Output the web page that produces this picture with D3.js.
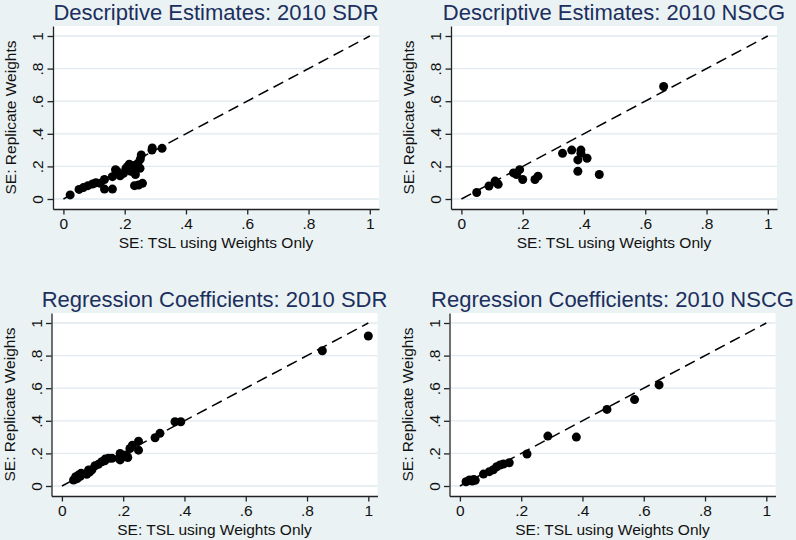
<!DOCTYPE html>
<html>
<head>
<meta charset="utf-8">
<script src="https://cdn.jsdelivr.net/npm/d3@7"></script>
<style>
  body { margin: 0; background: #eaf2f3; }
  svg { display: block; font-family: "Liberation Sans", Arial, sans-serif; }
</style>
</head>
<body>
<div id="chart"></div>
<script>
var titles = [
  'Descriptive Estimates: 2010 SDR',
  'Descriptive Estimates: 2010 NSCG',
  'Regression Coefficients: 2010 SDR',
  'Regression Coefficients: 2010 NSCG'
];

var xTitle = 'SE: TSL using Weights Only';
var yTitle = 'SE: Replicate Weights';

var tickValues = [0, 0.2, 0.4, 0.6, 0.8, 1];
var tickLabels = ['0', '.2', '.4', '.6', '.8', '1'];

// SE under TSL (x) vs replicate weights (y)
var descSdrX = [0.022, 0.051, 0.065, 0.08, 0.095, 0.106, 0.12, 0.134, 0.134, 0.16, 0.16, 0.17, 0.175, 0.185, 0.196, 0.204, 0.215, 0.22, 0.229, 0.235, 0.243, 0.25, 0.251, 0.254, 0.232, 0.245, 0.258, 0.289, 0.29, 0.322, 0.21, 0.225];
var descSdrY = [0.025, 0.059, 0.07, 0.082, 0.092, 0.10, 0.096, 0.12, 0.061, 0.061, 0.137, 0.18, 0.17, 0.143, 0.157, 0.188, 0.213, 0.17, 0.198, 0.15, 0.219, 0.188, 0.245, 0.27, 0.082, 0.086, 0.096, 0.30, 0.313, 0.311, 0.2, 0.205];

var descNscgX = [0.05, 0.09, 0.11, 0.12, 0.17, 0.18, 0.19, 0.2, 0.24, 0.25, 0.33, 0.36, 0.39, 0.39, 0.38, 0.41, 0.38, 0.45, 0.66, 0.115];
var descNscgY = [0.04, 0.08, 0.11, 0.09, 0.16, 0.15, 0.18, 0.12, 0.12, 0.14, 0.28, 0.30, 0.30, 0.28, 0.24, 0.25, 0.17, 0.15, 0.69, 0.10];

var regSdrX = [0.038, 0.045, 0.054, 0.063, 0.05, 0.06, 0.081, 0.087, 0.098, 0.108, 0.119, 0.13, 0.141, 0.152, 0.163, 0.186, 0.19, 0.20, 0.21, 0.222, 0.23, 0.25, 0.25, 0.304, 0.32, 0.369, 0.388, 0.85, 1.0, 0.09, 0.14, 0.19, 0.215];
var regSdrY = [0.037, 0.057, 0.067, 0.078, 0.045, 0.06, 0.072, 0.098, 0.10, 0.124, 0.133, 0.149, 0.165, 0.17, 0.17, 0.17, 0.2, 0.18, 0.19, 0.23, 0.25, 0.22, 0.275, 0.296, 0.323, 0.394, 0.394, 0.83, 0.92, 0.085, 0.155, 0.16, 0.175];

var regNscgX = [0.02, 0.031, 0.045, 0.04, 0.05, 0.077, 0.096, 0.109, 0.12, 0.131, 0.142, 0.161, 0.219, 0.287, 0.38, 0.48, 0.57, 0.65];
var regNscgY = [0.026, 0.037, 0.04, 0.03, 0.035, 0.073, 0.088, 0.10, 0.118, 0.129, 0.135, 0.143, 0.196, 0.306, 0.30, 0.47, 0.53, 0.62];

var panels = [
  { title: titles[0], xs: descSdrX, ys: descSdrY, left: 53, top: 26 },
  { title: titles[1], xs: descNscgX, ys: descNscgY, left: 451, top: 26 },
  { title: titles[2], xs: regSdrX, ys: regSdrY, left: 51.5, top: 313 },
  { title: titles[3], xs: regNscgX, ys: regNscgY, left: 449.5, top: 313 }
];

var width = 796;
var height = 540;
var plotW = 326;
var plotH = 183;

var svg = d3.select('#chart')
  .append('svg')
  .attr('width', width)
  .attr('height', height);

svg.append('rect')
  .attr('width', width)
  .attr('height', height)
  .attr('fill', '#eaf2f3');

var x = d3.scaleLinear()
  .domain([-0.034, 1.03])
  .range([0, plotW]);

var y = d3.scaleLinear()
  .domain([-0.0613, 1.0613])
  .range([plotH, 0]);

panels.forEach(function(p) {
  var g = svg.append('g')
    .attr('transform', 'translate(' + p.left + ',' + p.top + ')');

  g.append('rect')
    .attr('width', plotW)
    .attr('height', plotH)
    .attr('fill', '#ffffff');

  // horizontal grid
  g.selectAll('.grid')
    .data(tickValues)
    .enter()
    .append('line')
    .attr('class', 'grid')
    .attr('x1', 0)
    .attr('x2', plotW)
    .attr('y1', function(d) { return y(d); })
    .attr('y2', function(d) { return y(d); })
    .attr('stroke', '#e1eaee')
    .attr('stroke-width', 1.3);

  // 45 degree reference line
  g.append('line')
    .attr('x1', x(0))
    .attr('y1', y(0))
    .attr('x2', x(1))
    .attr('y2', y(1))
    .attr('stroke', '#000')
    .attr('stroke-width', 1.5)
    .attr('stroke-dasharray', '11,6');

  var pts = p.xs.map(function(v, i) {
    return [v, p.ys[i]];
  });

  g.selectAll('circle')
    .data(pts)
    .enter()
    .append('circle')
    .attr('cx', function(d) { return x(d[0]); })
    .attr('cy', function(d) { return y(d[1]); })
    .attr('r', 4.5)
    .attr('fill', '#000');

  var xAxis = d3.axisBottom(x)
    .tickValues(tickValues)
    .tickFormat(function(d, i) { return tickLabels[i]; })
    .tickSize(5.5)
    .tickSizeOuter(0)
    .tickPadding(3);

  var xg = g.append('g')
    .attr('transform', 'translate(0,' + plotH + ')')
    .call(xAxis);

  xg.select('.domain').attr('stroke', '#222').attr('stroke-width', 1.3);
  xg.selectAll('.tick line').attr('stroke', '#222').attr('stroke-width', 1.3);
  xg.selectAll('.tick text')
    .attr('font-size', 15.5)
    .attr('font-family', '"Liberation Sans", Arial, sans-serif')
    .attr('fill', '#111');

  var yAxis = d3.axisLeft(y)
    .tickValues(tickValues)
    .tickFormat(function(d, i) { return tickLabels[i]; })
    .tickSize(5.5)
    .tickSizeOuter(0);

  var yg = g.append('g')
    .call(yAxis);

  yg.select('.domain').attr('stroke', '#222').attr('stroke-width', 1.3);
  yg.selectAll('.tick line').attr('stroke', '#222').attr('stroke-width', 1.3);
  yg.selectAll('.tick text')
    .attr('font-size', 15.5)
    .attr('font-family', '"Liberation Sans", Arial, sans-serif')
    .attr('fill', '#111')
    .attr('x', null)
    .attr('dy', null)
    .attr('text-anchor', 'middle')
    .attr('transform', 'translate(-10,0) rotate(-90)');

  g.append('text')
    .attr('x', plotW / 2)
    .attr('y', plotH + 39)
    .attr('text-anchor', 'middle')
    .attr('font-size', 15.5)
    .attr('fill', '#111')
    .text(xTitle);

  g.append('text')
    .attr('transform', 'translate(-37,' + (plotH / 2) + ') rotate(-90)')
    .attr('text-anchor', 'middle')
    .attr('font-size', 15.5)
    .attr('fill', '#111')
    .text(yTitle);

  g.append('text')
    .attr('x', plotW / 2)
    .attr('y', -6.5)
    .attr('text-anchor', 'middle')
    .attr('font-size', 22)
    .attr('fill', '#1c2f5e')
    .text(p.title);
});
</script>
</body>
</html>
